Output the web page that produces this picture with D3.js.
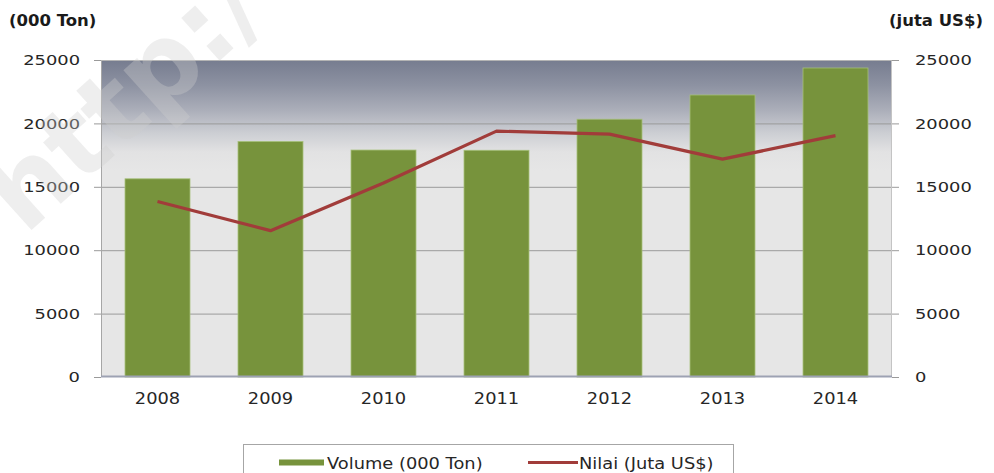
<!DOCTYPE html>
<html><head><meta charset="utf-8">
<script src="https://cdn.jsdelivr.net/npm/d3@7"></script>
<style>body{margin:0;background:#fff}svg{display:block}</style>
</head><body>
<svg id="c" width="994" height="473"></svg>
<script>
const years = ["2008","2009","2010","2011","2012","2013","2014"];
const volume = [15630, 18570, 17900, 17880, 20330, 22240, 24370];
const nilai = [13840, 11540, 15300, 19390, 19150, 17180, 19040];
const yTicks = [0, 5000, 10000, 15000, 20000, 25000];
const leftTitle = "(000 Ton)";
const rightTitle = "(juta US$)";
const legendLabels = ["Volume (000 Ton)", "Nilai (Juta US$)"];
const watermark = "http:/";

const svg = d3.select("#c");
const font = "DejaVu Sans";
const M = {l:101, r:892, t:60, b:377};
const x = d3.scaleBand().domain(years).range([M.l, M.r]).paddingInner(0.425).paddingOuter(0.2125);
const y = d3.scaleLinear().domain([0,25000]).range([M.b, M.t]);
const y2 = d3.scaleLinear().domain([0,25000]).range([M.b, M.t]);

function stretch(sel, k){
  sel.each(function(){
    const n = this; const w = n.getComputedTextLength();
    n.setAttribute("textLength", (w*k).toFixed(1));
    n.setAttribute("lengthAdjust","spacingAndGlyphs");
  });
}

// plot background gradient
const defs = svg.append("defs");
const g = defs.append("linearGradient").attr("id","bg").attr("x1",0).attr("y1",0).attr("x2",0).attr("y2",1);
[[0,"#767c8f"],[0.08,"#8d92a2"],[0.16,"#acafba"],[0.23,"#ccced3"],[0.29,"#e2e2e3"],[0.35,"#e6e6e6"],[1,"#e6e6e6"]]
  .forEach(([o,c])=>g.append("stop").attr("offset",o).attr("stop-color",c));
svg.append("rect").attr("x",M.l).attr("y",M.t).attr("width",M.r-M.l).attr("height",M.b-M.t).attr("fill","url(#bg)");

// gridlines
svg.append("g").selectAll("line").data(yTicks.filter(d=>d>0)).join("line")
  .attr("x1",M.l).attr("x2",M.r).attr("y1",d=>y(d)+0.5).attr("y2",d=>y(d)+0.5)
  .attr("stroke","#9a9a9a").attr("stroke-width",1);

// borders
svg.append("line").attr("x1",M.l+0.5).attr("x2",M.l+0.5).attr("y1",M.t).attr("y2",M.b).attr("stroke","#a6a6a6");
svg.append("line").attr("x1",M.r-0.5).attr("x2",M.r-0.5).attr("y1",M.t).attr("y2",M.b).attr("stroke","#c4c4c4");
svg.append("line").attr("x1",M.l).attr("x2",M.r).attr("y1",M.t+0.5).attr("y2",M.t+0.5).attr("stroke","#b4b4b4");

// bars
svg.append("g").selectAll("rect").data(years).join("rect")
  .attr("x",d=>x(d)).attr("width",x.bandwidth())
  .attr("y",(d,i)=>y(volume[i])).attr("height",(d,i)=>M.b-y(volume[i]))
  .attr("fill","#77933c").attr("stroke","#a5bf78").attr("stroke-width",0.8);

// bottom axis line
svg.append("line").attr("x1",M.l).attr("x2",M.r).attr("y1",M.b-0.5).attr("y2",M.b-0.5).attr("stroke","#9da2b3").attr("stroke-width",2);

// line
svg.append("path").datum(nilai)
  .attr("d", d3.line().x((d,i)=>x(years[i])+x.bandwidth()/2).y(d=>y2(d)))
  .attr("fill","none").attr("stroke","#a13c3a").attr("stroke-width",3.2).attr("stroke-linejoin","round");

// axes
const axL = svg.append("g").attr("transform",`translate(${M.l},0)`)
  .call(d3.axisLeft(y).tickValues(yTicks).tickSize(7).tickPadding(14).tickFormat(d3.format("d")));
const axR = svg.append("g").attr("transform",`translate(${M.r},0)`)
  .call(d3.axisRight(y2).tickValues(yTicks).tickSize(7).tickPadding(16).tickFormat(d3.format("d")));
[axL,axR].forEach(a=>{
  a.select(".domain").remove();
  a.selectAll(".tick line").attr("stroke","#9a9a9a");
  a.selectAll(".tick text").attr("font-family",font).attr("font-size",14.5).attr("fill","#262626");
});
stretch(axL.selectAll(".tick text"),1.23);
stretch(axR.selectAll(".tick text"),1.23);

const axB = svg.append("g").attr("transform",`translate(0,${M.b})`)
  .call(d3.axisBottom(x).tickSize(0).tickPadding(15));
axB.select(".domain").remove();
axB.selectAll(".tick text").attr("font-family",font).attr("font-size",16.5).attr("fill","#262626");
stretch(axB.selectAll(".tick text"),1.08);

// titles
const t1 = svg.append("text").attr("x",9).attr("y",26).text(leftTitle)
  .attr("font-family",font).attr("font-weight","bold").attr("font-size",15).attr("fill","#1a1a1a");
const t2 = svg.append("text").attr("x",983).attr("y",26).attr("text-anchor","end").text(rightTitle)
  .attr("font-family",font).attr("font-weight","bold").attr("font-size",15).attr("fill","#1a1a1a");
stretch(t1,1.1); stretch(t2,1.1);

// legend
svg.append("rect").attr("x",243.5).attr("y",444.5).attr("width",490).attr("height",40)
  .attr("fill","#fff").attr("stroke","#a6a6a6");
svg.append("rect").attr("x",279).attr("y",459.5).attr("width",45).attr("height",6).attr("fill","#77933c");
svg.append("line").attr("x1",528).attr("x2",578).attr("y1",462.5).attr("y2",462.5).attr("stroke","#a13c3a").attr("stroke-width",3);
const l1 = svg.append("text").attr("x",327).attr("y",468.5).text(legendLabels[0])
  .attr("font-family",font).attr("font-size",16.5).attr("fill","#262626");
const l2 = svg.append("text").attr("x",579).attr("y",468.5).text(legendLabels[1])
  .attr("font-family",font).attr("font-size",16.5).attr("fill","#262626");
stretch(l1,1.08); stretch(l2,1.08);

// watermark
svg.append("text").attr("transform","translate(25,236) rotate(-42)").text(watermark)
  .attr("font-family",font).attr("font-weight","bold").attr("font-size",105)
  .attr("fill","#cfcfcf").attr("fill-opacity",0.35);
</script>
</body></html>
